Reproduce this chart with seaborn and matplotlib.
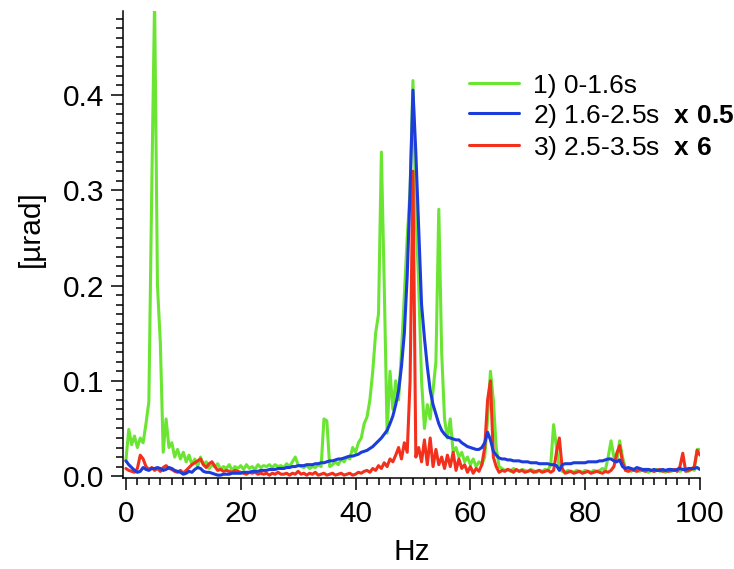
import numpy as np
import pandas as pd
import matplotlib
matplotlib.use("Agg")
import matplotlib.pyplot as plt
from matplotlib.ticker import MultipleLocator
import seaborn as sns

# frequency grid, 0.5 Hz steps from 0 to 100 Hz
freq = np.arange(0, 100.5, 0.5)

# 1) 0-1.6s
green = [
    0.016, 0.049, 0.033, 0.042, 0.030, 0.040, 0.035, 0.055, 0.078, 0.300,
    0.500, 0.200, 0.140, 0.025, 0.060, 0.030, 0.035, 0.020, 0.028, 0.018,
    0.025, 0.015, 0.022, 0.012, 0.018, 0.010, 0.020, 0.012, 0.015, 0.008,
    0.012, 0.010, 0.013, 0.007, 0.010, 0.008, 0.012, 0.006, 0.010, 0.008,
    0.011, 0.007, 0.012, 0.008, 0.010, 0.007, 0.012, 0.009, 0.011, 0.010,
    0.012, 0.009, 0.012, 0.010, 0.011, 0.009, 0.013, 0.010, 0.015, 0.020,
    0.012, 0.010, 0.009, 0.011, 0.008, 0.010, 0.009, 0.012, 0.010, 0.060,
    0.058, 0.010, 0.012, 0.015, 0.012, 0.018, 0.015, 0.020, 0.018, 0.030,
    0.025, 0.035, 0.040, 0.055, 0.062, 0.080, 0.110, 0.150, 0.170, 0.340,
    0.200, 0.045, 0.110, 0.070, 0.100, 0.080, 0.130, 0.190, 0.250, 0.300,
    0.415, 0.280, 0.200, 0.100, 0.050, 0.075, 0.060, 0.090, 0.120, 0.280,
    0.130, 0.060, 0.040, 0.060, 0.025, 0.030, 0.020, 0.025, 0.015, 0.020,
    0.012, 0.018, 0.010, 0.015, 0.012, 0.020, 0.060, 0.110, 0.080, 0.030,
    0.010, 0.008, 0.006, 0.007, 0.005, 0.008, 0.006, 0.005, 0.007, 0.006,
    0.005, 0.007, 0.006, 0.004, 0.006, 0.005, 0.007, 0.006, 0.012, 0.054,
    0.030, 0.008, 0.005, 0.004, 0.006, 0.005, 0.004, 0.006, 0.005, 0.004,
    0.006, 0.005, 0.004, 0.006, 0.005, 0.006, 0.008, 0.006, 0.020, 0.037,
    0.020, 0.015, 0.037, 0.020, 0.008, 0.006, 0.005, 0.007, 0.006, 0.005,
    0.007, 0.006, 0.004, 0.006, 0.005, 0.007, 0.005, 0.006, 0.004, 0.006,
    0.005, 0.007, 0.006, 0.005, 0.007, 0.006, 0.005, 0.008, 0.006, 0.028,
    0.028,
]

# 2) 1.6-2.5s, already multiplied by 0.5
blue = [
    0.016, 0.012, 0.009, 0.006, 0.004, 0.005, 0.009, 0.007, 0.006, 0.008,
    0.008, 0.009, 0.008, 0.006, 0.007, 0.009, 0.008, 0.006, 0.005, 0.004,
    0.002, 0.003, 0.005, 0.004, 0.007, 0.009, 0.008, 0.005, 0.004, 0.004,
    0.003, 0.002, 0.001, 0.001, 0.002, 0.002, 0.002, 0.003, 0.003, 0.003,
    0.003, 0.004, 0.004, 0.004, 0.005, 0.005, 0.005, 0.006, 0.006, 0.006,
    0.007, 0.007, 0.007, 0.008, 0.008, 0.008, 0.009, 0.009, 0.010, 0.010,
    0.011, 0.011, 0.011, 0.012, 0.012, 0.012, 0.013, 0.013, 0.014, 0.014,
    0.015, 0.016, 0.016, 0.017, 0.018, 0.018, 0.019, 0.020, 0.021, 0.021,
    0.022, 0.023, 0.025, 0.026, 0.027, 0.029, 0.031, 0.034, 0.037, 0.040,
    0.044, 0.048, 0.055, 0.063, 0.075, 0.090, 0.115, 0.150, 0.210, 0.300,
    0.405, 0.340, 0.260, 0.180, 0.145, 0.115, 0.090, 0.075, 0.065, 0.055,
    0.048, 0.044, 0.041, 0.040, 0.039, 0.038, 0.038, 0.035, 0.033, 0.031,
    0.030, 0.029, 0.028, 0.028, 0.030, 0.035, 0.046, 0.038, 0.026, 0.022,
    0.019, 0.018, 0.018, 0.017, 0.017, 0.016, 0.016, 0.016, 0.015, 0.015,
    0.015, 0.014, 0.014, 0.014, 0.013, 0.013, 0.013, 0.013, 0.012, 0.012,
    0.011, 0.006, 0.012, 0.013, 0.013, 0.013, 0.014, 0.014, 0.014, 0.014,
    0.014, 0.015, 0.015, 0.015, 0.015, 0.016, 0.016, 0.017, 0.018, 0.018,
    0.016, 0.015, 0.017, 0.010, 0.008, 0.009, 0.008, 0.007, 0.009, 0.008,
    0.007, 0.007, 0.007, 0.006, 0.007, 0.006, 0.006, 0.007, 0.006, 0.007,
    0.007, 0.006, 0.007, 0.008, 0.007, 0.007, 0.008, 0.008, 0.008, 0.009,
    0.007,
]

# 3) 2.5-3.5s, already multiplied by 6
red = [
    0.008, 0.006, 0.005, 0.004, 0.008, 0.022, 0.018, 0.010, 0.007, 0.009,
    0.006, 0.008, 0.005, 0.009, 0.011, 0.008, 0.007, 0.005, 0.004, 0.006,
    0.003, 0.006, 0.009, 0.012, 0.014, 0.016, 0.018, 0.012, 0.009, 0.013,
    0.015, 0.010, 0.006, 0.007, 0.005, 0.006, 0.005, 0.004, 0.006, 0.005,
    0.004, 0.003, 0.002, 0.004, 0.003, 0.004, 0.002, 0.003, 0.002, 0.003,
    0.001, 0.003, 0.002, 0.004, 0.002, 0.002, 0.003, 0.001, 0.003, 0.002,
    0.005, 0.002, 0.003, 0.001, 0.003, 0.002, 0.004, 0.001, 0.002, 0.003,
    0.001, 0.002, 0.003, 0.001, 0.002, 0.003, 0.001, 0.002, 0.003, 0.001,
    0.002, 0.004, 0.003, 0.005, 0.006, 0.004, 0.008, 0.006, 0.011, 0.008,
    0.014, 0.010, 0.018, 0.015, 0.022, 0.030, 0.018, 0.035, 0.025, 0.100,
    0.320, 0.020, 0.030, 0.015, 0.038, 0.012, 0.040, 0.010, 0.028, 0.012,
    0.020, 0.008, 0.022, 0.010, 0.025, 0.006, 0.018, 0.008, 0.012, 0.004,
    0.010, 0.003, 0.008, 0.005, 0.012, 0.030, 0.080, 0.100, 0.020, 0.010,
    0.004, 0.006, 0.005, 0.007, 0.006, 0.004, 0.007, 0.005, 0.006, 0.004,
    0.005, 0.006, 0.004, 0.005, 0.006, 0.004, 0.005, 0.006, 0.004, 0.006,
    0.025, 0.040, 0.008, 0.003, 0.004, 0.005, 0.003, 0.004, 0.005, 0.003,
    0.004, 0.005, 0.003, 0.004, 0.005, 0.004, 0.003, 0.005, 0.004, 0.006,
    0.010, 0.024, 0.032, 0.015, 0.006, 0.005, 0.007, 0.006, 0.005, 0.007,
    0.006, 0.005, 0.007, 0.006, 0.005, 0.006, 0.007, 0.005, 0.006, 0.005,
    0.006, 0.007, 0.005, 0.010, 0.024, 0.005, 0.006, 0.007, 0.010, 0.027,
    0.022,
]

labels = ["1) 0-1.6s",
          r"2) 1.6-2.5s  $\mathbf{x\ 0.5}$",
          r"3) 2.5-3.5s  $\mathbf{x\ 6}$"]
colors = ["#6ae532", "#1c3cdc", "#f2301c"]

sns.set_style("ticks")
plt.rcParams["font.family"] = ["Liberation Sans", "DejaVu Sans"]
plt.rcParams["mathtext.fontset"] = "custom"
plt.rcParams["mathtext.rm"] = "Liberation Sans"
plt.rcParams["mathtext.bf"] = "Liberation Sans:bold"
plt.rcParams["text.color"] = "black"
plt.rcParams["axes.labelcolor"] = "black"
plt.rcParams["xtick.color"] = "black"
plt.rcParams["ytick.color"] = "black"

fig = plt.figure(figsize=(7.34, 5.69), dpi=100)
ax = fig.add_axes([0.1676, 0.1599, 0.7861, 0.8207])

# draw order: green, red, blue (legend order kept 1,2,3)
for y, lab, col, z in [(green, labels[0], colors[0], 1),
                       (red, labels[2], colors[2], 2),
                       (blue, labels[1], colors[1], 3)]:
    sns.lineplot(x=freq, y=y, ax=ax, color=col, linewidth=2.2, label=lab, zorder=z)

ax.set_xlim(-0.5, 100)
ax.set_ylim(-0.002, 0.488)
ax.xaxis.set_major_locator(MultipleLocator(20))
ax.xaxis.set_minor_locator(MultipleLocator(2))
ax.yaxis.set_major_locator(MultipleLocator(0.1))
ax.yaxis.set_minor_locator(MultipleLocator(0.01))
ax.tick_params(which="major", length=8.5, width=1.1, labelsize=21.5,
               color="black", labelcolor="black")
ax.tick_params(which="minor", length=5, width=1.1, color="black")
ax.tick_params(axis="x", which="major", pad=7)
ax.tick_params(axis="y", which="major", pad=5)
sns.despine(ax=ax)
for s in ["left", "bottom"]:
    ax.spines[s].set_linewidth(1.1)
    ax.spines[s].set_color("black")

ax.set_xlabel("Hz", fontsize=21.5, color="black")
ax.set_ylabel("[µrad]", fontsize=21.5, color="black")
ax.xaxis.set_label_coords(0.5, -0.128)
ax.yaxis.set_label_coords(-0.135, 0.535)

handles, labs = ax.get_legend_handles_labels()
order = [labs.index(l) for l in labels]
leg = ax.legend([handles[i] for i in order], [labs[i] for i in order],
                loc="upper left", bbox_to_anchor=(0.60, 0.866), frameon=False,
                fontsize=19, handlelength=1.9, handletextpad=0.5,
                labelspacing=0.15, borderaxespad=0, borderpad=0)
for t in leg.get_texts():
    t.set_color("black")

fig.savefig("out.png", dpi=100)
